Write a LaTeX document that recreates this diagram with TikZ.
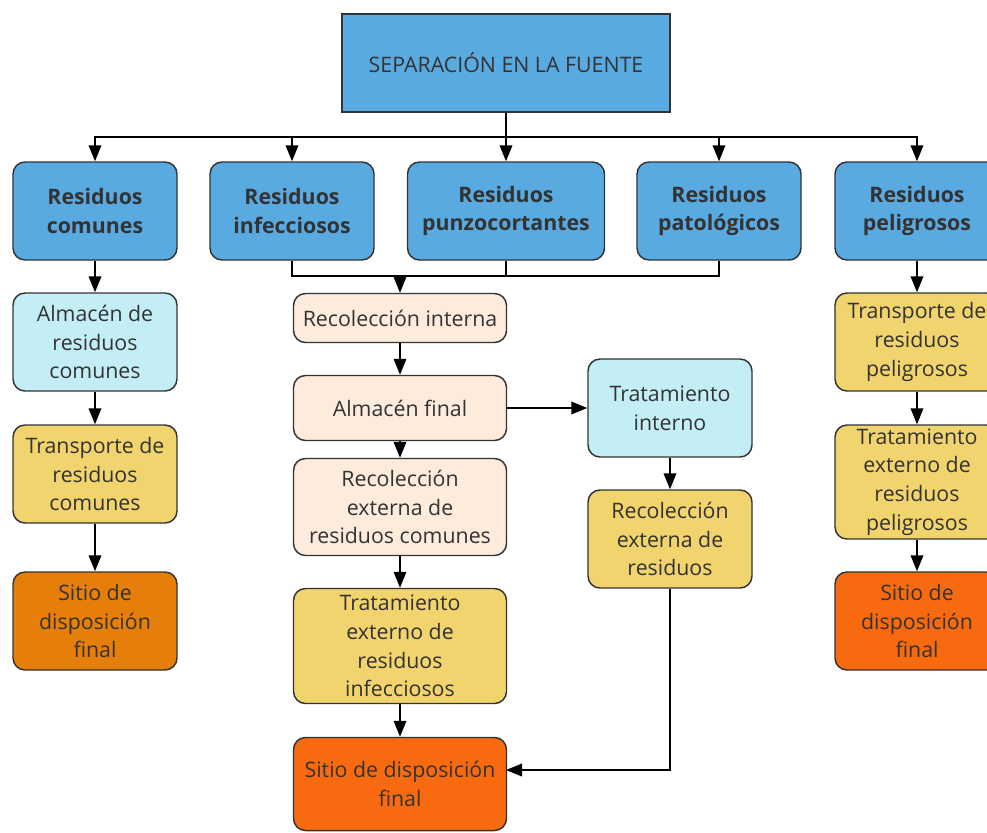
\documentclass[tikz,border=0pt]{standalone}
\usepackage{fontspec}
\setmainfont{Open Sans}
\usetikzlibrary{arrows.meta}
\definecolor{azul}{HTML}{5AAAE2}
\definecolor{durazno}{HTML}{FDEBDC}
\definecolor{celeste}{HTML}{C4EEF6}
\definecolor{amarillo}{HTML}{F2D46E}
\definecolor{naranjaosc}{HTML}{E67E0A}
\definecolor{naranja}{HTML}{F76A10}
\definecolor{borde}{HTML}{333333}
\definecolor{texto}{HTML}{333333}
\tikzset{box/.style={draw=borde, line width=1.1pt, rounded corners=9pt, align=center, inner sep=0pt,
          text=texto, font=\fontsize{16}{21.5}\selectfont},
         tipo/.style={box, fill=azul, font=\fontsize{16}{21.5}\selectfont\bfseries, minimum width=123pt, minimum height=73.5pt},
         arr/.style={-{Triangle[length=12pt,width=9.5pt]}},
         every path/.style={line width=1.1pt}}

\begin{document}
\begin{tikzpicture}[x=0.75pt,y=-0.75pt]
   \useasboundingbox (0,0) rectangle (987,832);
   % cabecera
   \node[box, rounded corners=0pt, fill=azul, minimum width=246pt, minimum height=73.5pt] (fuente) at (506,63) {SEPARACIÓN EN LA FUENTE};
   \node[tipo] (comunes)   at ( 95,211) {Residuos\\comunes};
   \node[tipo] (infec)     at (292,211) {Residuos\\infecciosos};
   \node[tipo, minimum width=147.75pt] (punzo) at (506,211) {Residuos\\punzocortantes};
   \node[tipo] (patol)     at (719,211) {Residuos\\patológicos};
   \node[tipo] (peligro)   at (917,211) {Residuos\\peligrosos};
   \coordinate (reparto) at (506,137);
   \draw (fuente) -- (reparto);
   \draw[arr] (reparto) -| (comunes);
   \draw[arr] (reparto) -| (infec);
   \draw[arr] (reparto) -- (punzo);
   \draw[arr] (reparto) -| (patol);
   \draw[arr] (reparto) -| (peligro);
   % columna izquierda
   \node[box, fill=celeste, minimum width=123pt, minimum height=73.5pt] (almcom) at (95,342) {Almacén de\\residuos\\comunes};
   \node[box, fill=amarillo, minimum width=123pt, minimum height=73.5pt] (transcom) at (95,474) {Transporte de\\residuos\\comunes};
   \node[box, fill=naranjaosc, minimum width=123pt, minimum height=73.5pt] (sitiocom) at (95,621) {Sitio de\\disposición\\final};
   \draw[arr] (comunes) -- (almcom);
   \draw[arr] (almcom) -- (transcom);
   \draw[arr] (transcom) -- (sitiocom);
   % columna central
   \coordinate (junta) at (400,276);
   \draw (infec) |- (junta);
   \draw (patol) |- (junta);
   \draw (punzo) -- (punzo |- junta);
   \node[box, fill=durazno, minimum width=159.75pt, minimum height=36.75pt] (recint) at (400,318) {Recolección interna};
   \node[box, fill=durazno, minimum width=159.75pt, minimum height=48.75pt] (almfin) at (400,408) {Almacén final};
   \node[box, fill=durazno, minimum width=159.75pt, minimum height=72.75pt] (recextcom) at (400,507) {Recolección\\externa de\\residuos comunes};
   \node[box, fill=amarillo, minimum width=159.75pt, minimum height=86.25pt] (tratinf) at (400,646) {Tratamiento\\externo de\\residuos\\infecciosos};
   \node[box, fill=naranja, minimum width=159.75pt, minimum height=69.75pt] (sitiocen) at (400,784) {Sitio de disposición\\final};
   \draw[arr] (junta) -- (recint);
   \draw[arr] (recint) -- (almfin);
   \draw[arr] (almfin) -- (recextcom);
   \draw[arr] (recextcom) -- (tratinf);
   \draw[arr] (tratinf) -- (sitiocen);
   % rama del tratamiento interno
   \node[box, fill=celeste, minimum width=123pt, minimum height=73.5pt] (tratint) at (670,408) {Tratamiento\\interno};
   \node[box, fill=amarillo, minimum width=123pt, minimum height=73.5pt] (recext) at (670,539) {Recolección\\externa de\\residuos};
   \coordinate (llegada) at (506,770);
   \draw[arr] (almfin) -- (tratint);
   \draw[arr] (tratint) -- (recext);
   \draw[arr] (recext) |- (llegada);
   % columna derecha
   \node[box, fill=amarillo, minimum width=123pt, minimum height=73.5pt] (transpel) at (917,342) {Transporte de\\residuos\\peligrosos};
   \node[box, fill=amarillo, minimum width=123pt, minimum height=85.5pt] (tratpel) at (917,482) {Tratamiento\\externo de\\residuos\\peligrosos};
   \node[box, fill=naranja, minimum width=123pt, minimum height=73.5pt] (sitiopel) at (917,621) {Sitio de\\disposición\\final};
   \draw[arr] (peligro) -- (transpel);
   \draw[arr] (transpel) -- (tratpel);
   \draw[arr] (tratpel) -- (sitiopel);
  \end{tikzpicture}
\end{document}
